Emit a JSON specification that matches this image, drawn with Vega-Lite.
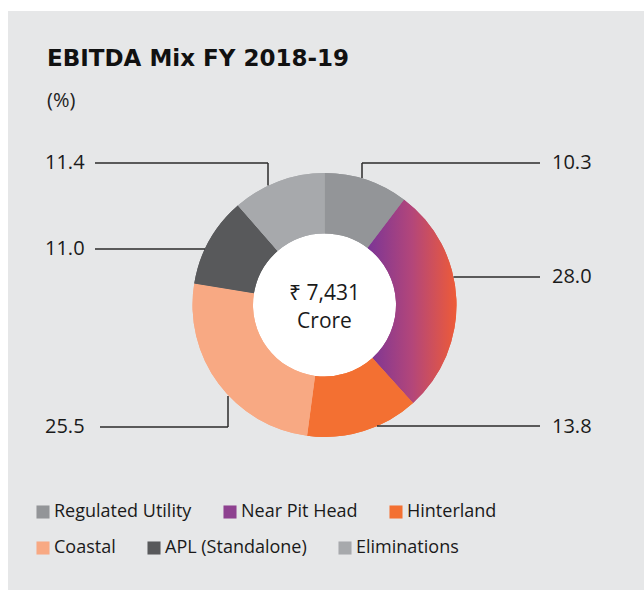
{
  "$schema": "https://vega.github.io/schema/vega-lite/v6.json",
  "width": 636,
  "height": 579,
  "autosize": {"type": "none"},
  "padding": {"left": 8, "top": 11, "right": 0, "bottom": 0},
  "background": "#ffffff",
  "config": {
    "view": {"fill": "#e6e7e8", "stroke": null},
    "font": "Open Sans",
    "legend": {
      "orient": "none",
      "direction": "horizontal",
      "symbolType": "square",
      "symbolSize": 170,
      "symbolStrokeWidth": 0,
      "labelFont": "Open Sans",
      "labelFontSize": 18,
      "labelColor": "#1a1a1a",
      "labelOffset": 2,
      "columnPadding": 29,
      "labelLimit": 300
    }
  },
  "title": {
    "text": "EBITDA Mix FY 2018-19",
    "subtitle": "(%)",
    "anchor": "start",
    "frame": "group",
    "offset": 0,
    "dx": 39,
    "dy": 100,
    "font": "DejaVu Sans",
    "fontSize": 23,
    "fontWeight": "bold",
    "color": "#111111",
    "subtitleFont": "Open Sans",
    "subtitleFontSize": 20,
    "subtitleColor": "#222222",
    "subtitlePadding": 20
  },
  "datasets": {
    "mix": [
      {"segment": "Regulated Utility", "share": 10.3, "ord": 1},
      {"segment": "Near Pit Head", "share": 28.0, "ord": 2},
      {"segment": "Hinterland", "share": 13.8, "ord": 3},
      {"segment": "Coastal", "share": 25.5, "ord": 4},
      {"segment": "APL (Standalone)", "share": 11.0, "ord": 5},
      {"segment": "Eliminations", "share": 11.4, "ord": 6}
    ],
    "leaders": [
      {"x": 354, "y": 167, "x2": 354, "y2": 152},
      {"x": 354, "y": 152, "x2": 532, "y2": 152},
      {"x": 445.5, "y": 266, "x2": 532, "y2": 266},
      {"x": 369, "y": 415, "x2": 532, "y2": 415},
      {"x": 87, "y": 152, "x2": 260, "y2": 152},
      {"x": 260, "y": 152, "x2": 260, "y2": 174.5},
      {"x": 87, "y": 238, "x2": 197, "y2": 238},
      {"x": 92, "y": 416, "x2": 220, "y2": 416},
      {"x": 220, "y": 416, "x2": 220, "y2": 385}
    ],
    "labels": [
      {"label": "10.3", "x": 544, "y": 152},
      {"label": "28.0", "x": 544, "y": 266},
      {"label": "13.8", "x": 544, "y": 416},
      {"label": "11.4", "x": 37, "y": 152},
      {"label": "11.0", "x": 37, "y": 238},
      {"label": "25.5", "x": 37, "y": 416}
    ],
    "center": [{"text": "₹ 7,431\nCrore", "cx": 316.5, "cy": 294}]
  },
  "layer": [
    {
      "data": {"name": "center"},
      "mark": {"type": "arc", "outerRadius": 72, "fill": "#ffffff"},
      "encoding": {
        "x": {"field": "cx", "type": "quantitative", "scale": {"domain": [0, 636], "nice": false, "zero": false}, "axis": null},
        "y": {"field": "cy", "type": "quantitative", "scale": {"domain": [0, 579], "nice": false, "zero": false, "reverse": true}, "axis": null}
      }
    },
    {
      "data": {"name": "mix"},
      "mark": {"type": "arc", "outerRadius": 132, "innerRadius": 71.5},
      "encoding": {
        "x": {"datum": 316.5, "type": "quantitative", "scale": {"domain": [0, 636], "nice": false, "zero": false}, "axis": null},
        "y": {"datum": 294, "type": "quantitative", "scale": {"domain": [0, 579], "nice": false, "zero": false, "reverse": true}, "axis": null},
        "theta": {"field": "share", "type": "quantitative", "stack": true},
        "order": {"field": "ord", "type": "quantitative"},
        "color": {
          "condition": {
            "test": "datum.segment === 'Near Pit Head'",
            "value": {
              "gradient": "linear",
              "x1": 0, "y1": 0, "x2": 1, "y2": 0,
              "stops": [
                {"offset": 0, "color": "#7b3596"},
                {"offset": 0.5, "color": "#b3467a"},
                {"offset": 1, "color": "#ee5b37"}
              ]
            }
          },
          "field": "segment",
          "type": "nominal",
          "scale": {
            "domain": ["Regulated Utility", "Near Pit Head", "Hinterland", "Coastal", "APL (Standalone)", "Eliminations"],
            "range": ["#939598", "#8e4190", "#f37032", "#f8a983", "#58595b", "#a7a9ac"]
          },
          "legend": {
            "title": null,
            "values": ["Regulated Utility", "Near Pit Head", "Hinterland"],
            "legendX": 26,
            "legendY": 492
          }
        }
      }
    },
    {
      "data": {"name": "mix"},
      "mark": {"type": "arc", "outerRadius": 132, "innerRadius": 71.5},
      "encoding": {
        "x": {"datum": 316.5, "type": "quantitative", "scale": {"domain": [0, 636], "nice": false, "zero": false}, "axis": null},
        "y": {"datum": 294, "type": "quantitative", "scale": {"domain": [0, 579], "nice": false, "zero": false, "reverse": true}, "axis": null},
        "theta": {"field": "share", "type": "quantitative", "stack": true},
        "order": {"field": "ord", "type": "quantitative"},
        "fill": {
          "condition": {
            "test": "datum.segment === 'Near Pit Head'",
            "value": {
              "gradient": "linear",
              "x1": 0, "y1": 0, "x2": 1, "y2": 0,
              "stops": [
                {"offset": 0, "color": "#7b3596"},
                {"offset": 0.5, "color": "#b3467a"},
                {"offset": 1, "color": "#ee5b37"}
              ]
            }
          },
          "field": "segment",
          "type": "nominal",
          "scale": {
            "domain": ["Coastal", "APL (Standalone)", "Eliminations", "Regulated Utility", "Near Pit Head", "Hinterland"],
            "range": ["#f8a983", "#58595b", "#a7a9ac", "#939598", "#8e4190", "#f37032"]
          },
          "legend": {
            "title": null,
            "values": ["Coastal", "APL (Standalone)", "Eliminations"],
            "legendX": 26,
            "legendY": 528
          }
        }
      }
    },
    {
      "data": {"name": "leaders"},
      "mark": {"type": "rule", "color": "#2b2b2b", "strokeWidth": 1.5},
      "encoding": {
        "x": {"field": "x", "type": "quantitative", "scale": {"domain": [0, 636], "nice": false, "zero": false}, "axis": null},
        "y": {"field": "y", "type": "quantitative", "scale": {"domain": [0, 579], "nice": false, "zero": false, "reverse": true}, "axis": null},
        "x2": {"field": "x2"},
        "y2": {"field": "y2"}
      }
    },
    {
      "data": {"name": "labels"},
      "mark": {"type": "text", "align": "left", "baseline": "middle", "fontSize": 20, "font": "Open Sans", "color": "#1a1a1a"},
      "encoding": {
        "x": {"field": "x", "type": "quantitative", "scale": {"domain": [0, 636], "nice": false, "zero": false}, "axis": null},
        "y": {"field": "y", "type": "quantitative", "scale": {"domain": [0, 579], "nice": false, "zero": false, "reverse": true}, "axis": null},
        "text": {"field": "label"}
      }
    },
    {
      "data": {"name": "center"},
      "mark": {"type": "text", "align": "center", "baseline": "middle", "dy": -11, "fontSize": 21, "font": "Open Sans", "color": "#1a1a1a", "lineBreak": "\n", "lineHeight": 28},
      "encoding": {
        "x": {"field": "cx", "type": "quantitative", "scale": {"domain": [0, 636], "nice": false, "zero": false}, "axis": null},
        "y": {"field": "cy", "type": "quantitative", "scale": {"domain": [0, 579], "nice": false, "zero": false, "reverse": true}, "axis": null},
        "text": {"field": "text"}
      }
    }
  ]
}
